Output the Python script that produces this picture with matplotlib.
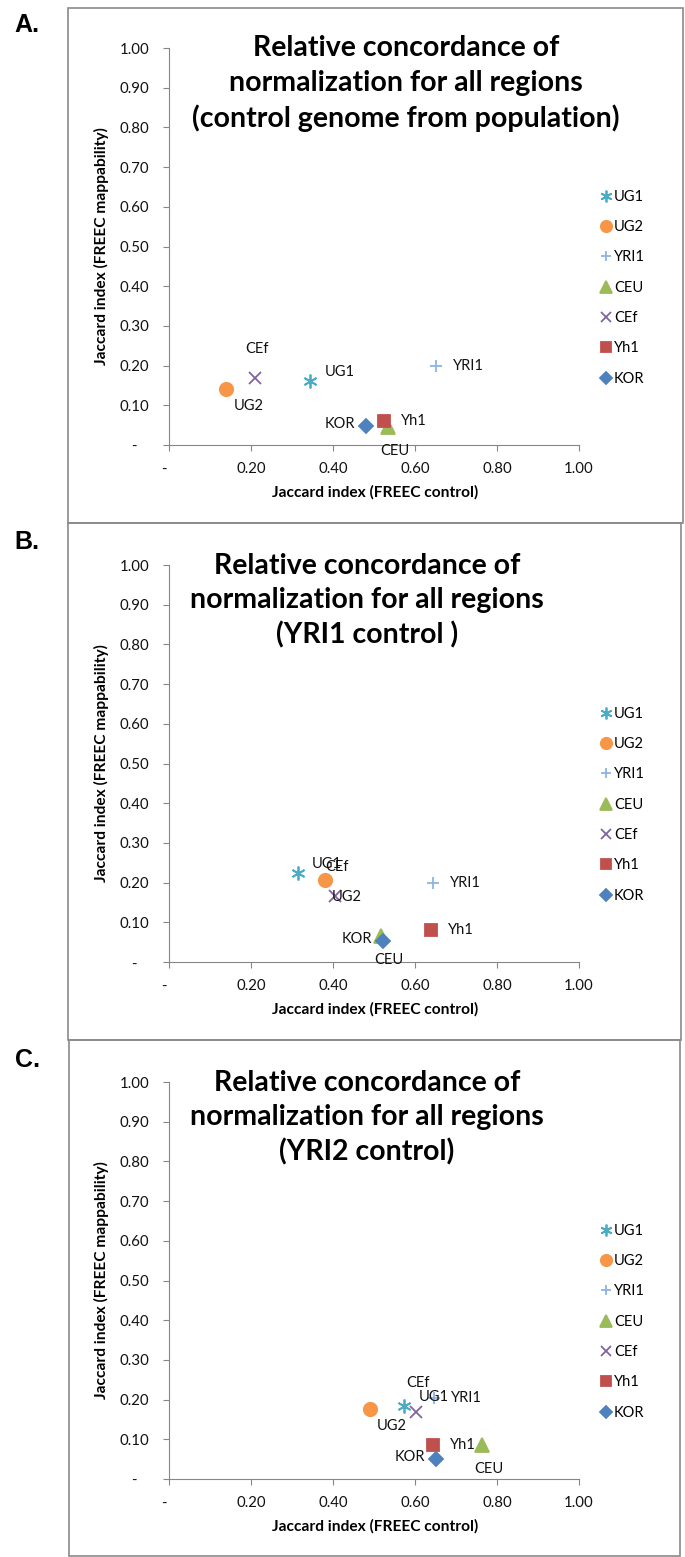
import matplotlib.pyplot as plt
from matplotlib.patches import Rectangle

plt.rcParams['font.family'] = ['Lato', 'DejaVu Sans']

# series in legend order
series = ['UG1', 'UG2', 'YRI1', 'CEU', 'CEf', 'Yh1', 'KOR']

# panel A: control genome from population
a_x = [0.345, 0.14, 0.65, 0.535, 0.21, 0.525, 0.48]
a_y = [0.16, 0.14, 0.20, 0.046, 0.17, 0.06, 0.049]
# panel B: YRI1 control
b_x = [0.315, 0.38, 0.645, 0.518, 0.405, 0.64, 0.523]
b_y = [0.225, 0.207, 0.20, 0.065, 0.165, 0.08, 0.052]
# panel C: YRI2 control
c_x = [0.574, 0.49, 0.646, 0.764, 0.603, 0.645, 0.652]
c_y = [0.185, 0.177, 0.205, 0.086, 0.17, 0.085, 0.05]

titles = ['Relative concordance of\nnormalization for all regions\n(control genome from population)',
          'Relative concordance of\nnormalization for all regions\n(YRI1 control )',
          'Relative concordance of\nnormalization for all regions\n(YRI2 control)']
letters = ['A.', 'B.', 'C.']

y_ticks = [0.0, 0.1, 0.2, 0.3, 0.4, 0.5, 0.6, 0.7, 0.8, 0.9, 1.0]
y_ticklabels = ['-   ', '0.10', '0.20', '0.30', '0.40', '0.50', '0.60', '0.70', '0.80', '0.90', '1.00']
x_ticks = [0.0, 0.2, 0.4, 0.6, 0.8, 1.0]
x_ticklabels = ['-  ', '0.20', '0.40', '0.60', '0.80', '1.00']

colors = ['#4BACC6', '#F79646', '#8EB4E3', '#9BBB59', '#8064A2', '#C0504D', '#4F81BD']
markers = [(6, 2, 0), 'o', '+', '^', 'x', 's', 'D']
msizes = [10, 9.6, 8.6, 9.4, 8.8, 9.0, 6.8]

# data label offsets in pixels (dx, dy, ha)
offs = {'UG1': (14, 9, 'left'), 'UG2': (22, -17, 'center'), 'YRI1': (17, 0, 'left'),
        'CEU': (7, -24, 'center'), 'CEf': (2, 29, 'center'), 'Yh1': (17, 0, 'left'),
        'KOR': (-11, 2, 'right')}

W, H = 685, 1557
fig = plt.figure(figsize=(W / 100, H / 100), dpi=100)

def fx(px):
    return px / W

def fy(py):
    return 1 - py / H

# panel frames
boxes = [(68, 8, 683, 523), (68, 523, 681, 1040), (69, 1040, 680, 1556)]
for x0, y0, x1, y1 in boxes:
    fig.patches.append(Rectangle((fx(x0), fy(y1)), fx(x1 - x0), (y1 - y0) / H,
                                 transform=fig.transFigure, fill=False,
                                 edgecolor='#8a8a8a', lw=1.2))

tops = [48, 565, 1082]
title_x = [406, 367, 367]
letter_y = [25, 542, 1060]
data = [(a_x, a_y), (b_x, b_y), (c_x, c_y)]

for i in range(3):
    top = tops[i]
    ax = fig.add_axes([fx(169), fy(top + 397), fx(410), 397 / H])
    xs, ys = data[i]
    for k, name in enumerate(series):
        ax.plot(xs[k], ys[k], linestyle='none', marker=markers[k], color=colors[k],
                markersize=msizes[k], markeredgewidth=1.3, label=name, clip_on=False)
        dx, dy, ha = offs[name]
        ax.annotate(name, (xs[k], ys[k]), xytext=(dx, dy), textcoords='offset pixels',
                    ha=ha, va='center', fontsize=10.5, color='#111111')
    ax.set_xlim(0, 1)
    ax.set_ylim(0, 1)
    ax.set_xticks(x_ticks)
    ax.set_xticklabels(x_ticklabels)
    ax.set_yticks(y_ticks)
    ax.set_yticklabels(y_ticklabels)
    ax.tick_params(axis='both', direction='out', length=4, color='#868686',
                   labelsize=10.8, labelcolor='#111111')
    ax.tick_params(axis='y', pad=10)
    ax.tick_params(axis='x', pad=8)
    for s in ['top', 'right']:
        ax.spines[s].set_visible(False)
    for s in ['left', 'bottom']:
        ax.spines[s].set_color('#868686')
    ax.patch.set_alpha(0)

    ax.set_xlabel('Jaccard index (FREEC control)', fontsize=11.2, fontweight='bold', va='center')
    ax.xaxis.set_label_coords(0.502, -0.118)
    ax.set_ylabel('Jaccard index (FREEC mappability)', fontsize=11.2, fontweight='bold', va='center')
    ax.yaxis.set_label_coords((101 - 169) / 410, 0.5)

    ax.text((title_x[i] - 169) / 410, 0.91, titles[i], transform=ax.transAxes,
            ha='center', va='center', fontsize=20.5, fontweight='bold', linespacing=1.4)

    ax.legend(loc='center left', bbox_to_anchor=(1.051, 0.396), frameon=False,
              borderaxespad=0, borderpad=0, handlelength=0.8, handletextpad=0.15,
              labelspacing=1.12, numpoints=1, markerscale=0.85, fontsize=10.5)

    fig.text(fx(27), fy(letter_y[i]), letters[i], ha='center', va='center',
             fontsize=18, fontweight='bold', family='Liberation Sans')

fig.savefig('out.png', dpi=100)
